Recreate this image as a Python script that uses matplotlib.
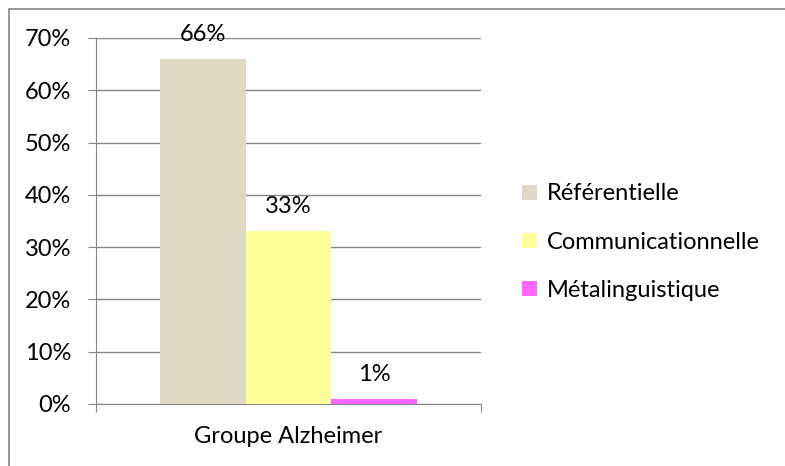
import matplotlib.pyplot as plt
from matplotlib.lines import Line2D
from matplotlib.ticker import FuncFormatter

# donnees
groupe = 'Groupe Alzheimer'
fonctions = ['Référentielle', 'Communicationnelle', 'Métalinguistique']
valeurs = [66, 33, 1]
couleurs = ['#DDD9C3', '#FFFF99', '#FF66FF']
graduations = [0, 10, 20, 30, 40, 50, 60, 70]

plt.rcParams['font.family'] = ['Lato', 'DejaVu Sans']
taille = 17

W, H = 785, 466
fig = plt.figure(figsize=(W / 100, H / 100), dpi=100)
# cadre exterieur (seuls les bords gauche et haut sont visibles)
fig.lines.append(Line2D([8.5 / W, 8.5 / W, 1], [0, 1 - 8.5 / H, 1 - 8.5 / H],
                        transform=fig.transFigure, color='#8c8c8c', linewidth=1.3))

ax = fig.add_axes([96 / W, 1 - 404 / H, 385 / W, 366 / H])
largeur = 0.222
for i, (nom, v, c) in enumerate(zip(fonctions, valeurs, couleurs)):
    x = (i - 1) * largeur
    ax.bar(x, v, width=largeur, color=c, label=nom, zorder=3)
    ax.text(x, v + 4.7, f'{v}%', ha='center', va='center', fontsize=taille, zorder=4)

ax.set_xlim(-0.5, 0.5)
ax.set_ylim(0, 70)
ax.set_yticks(graduations)
ax.yaxis.set_major_formatter(FuncFormatter(lambda v, p: f'{v:.0f}%'))
ax.grid(axis='y', color='#868686', linewidth=1, zorder=0)
ax.set_xticks([-0.5, 0.5])
ax.set_xticklabels(['', ''])
ax.text(0, -0.09, groupe, transform=ax.get_xaxis_transform(), ha='center', va='center', fontsize=taille)

for s in ['top', 'right']:
    ax.spines[s].set_visible(False)
for s in ['left', 'bottom']:
    ax.spines[s].set_color('#868686')
ax.tick_params(axis='y', length=6, color='#868686', labelsize=taille, pad=12)
ax.tick_params(axis='x', length=6, color='#868686')

fig.legend(loc='upper left', bbox_to_anchor=(513 / W, 1 - 174 / H), frameon=False,
           fontsize=taille, handlelength=0.6, handleheight=0.6, handletextpad=0.45,
           labelspacing=1.15, borderaxespad=0)

fig.savefig('out.png', dpi=100)
